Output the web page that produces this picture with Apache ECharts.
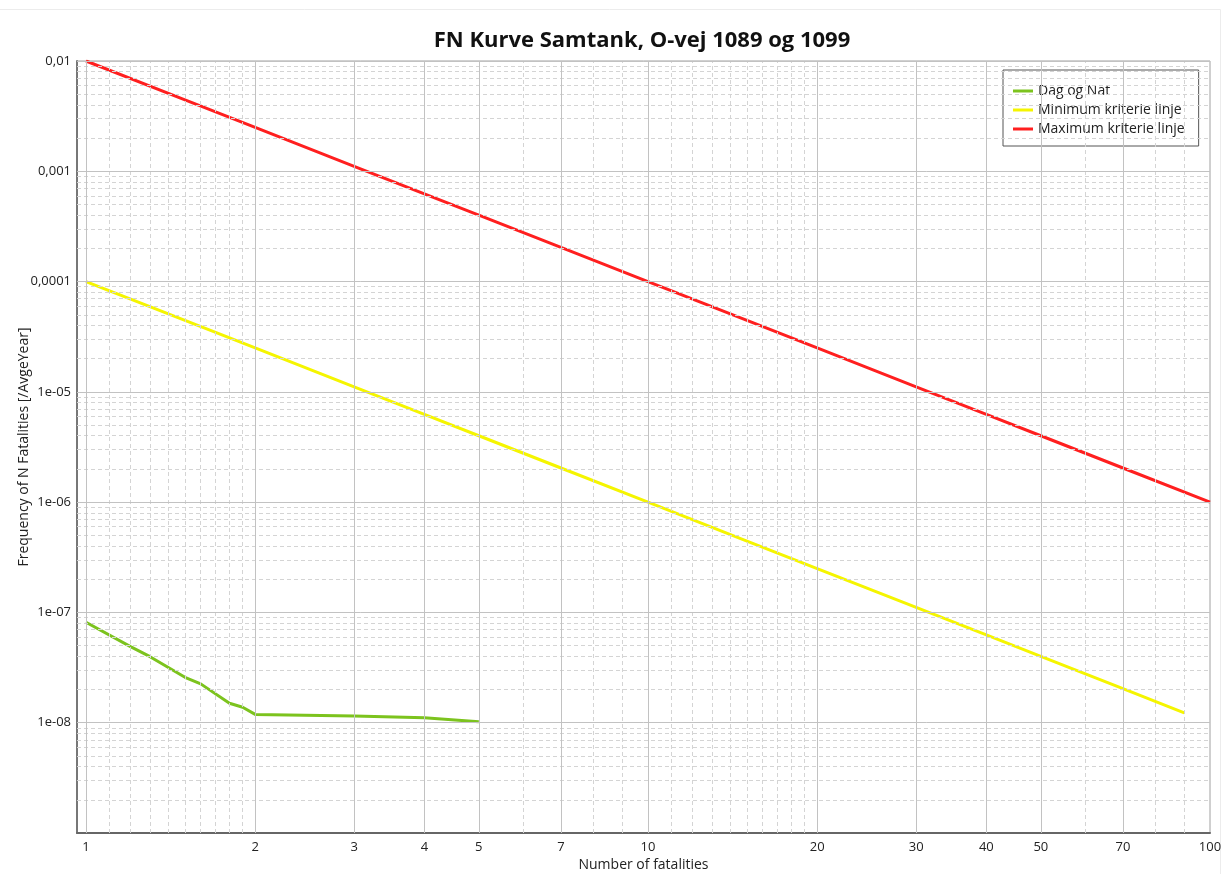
<!DOCTYPE html>
<html>
<head>
<meta charset="utf-8">
<script src="https://cdn.jsdelivr.net/npm/echarts@6/dist/echarts.min.js"></script>
<style>
html,body{margin:0;padding:0;background:#fff;}
#chart{width:1223px;height:874px;}
</style>
</head>
<body>
<div id="chart"></div>
<script>
// ---- data ----
const titleText = 'FN Kurve Samtank, O-vej 1089 og 1099';
const xName = 'Number of fatalities';
const yName = 'Frequency of N Fatalities [/AvgeYear]';
const seriesNames = ['Dag og Nat', 'Minimum kriterie linje', 'Maximum kriterie linje'];

const dagNatN = [1, 1.2, 1.3, 1.5, 1.6, 1.8, 1.9, 2, 3, 4, 5];
const dagNatF = [8.15e-8, 4.9e-8, 3.97e-8, 2.58e-8, 2.25e-8, 1.5e-8, 1.38e-8, 1.19e-8, 1.15e-8, 1.11e-8, 1.02e-8];

const minN = [1, 1.5, 2, 3, 4, 5, 7, 10, 15, 20, 30, 40, 50, 70, 90];
const minF = [1e-4, 4.44e-5, 2.5e-5, 1.11e-5, 6.25e-6, 4e-6, 2.04e-6, 1e-6, 4.44e-7, 2.5e-7, 1.11e-7, 6.25e-8, 4e-8, 2.04e-8, 1.23e-8];

const maxN = [1, 1.5, 2, 3, 4, 5, 7, 10, 15, 20, 30, 40, 50, 70, 100];
const maxF = [1e-2, 4.44e-3, 2.5e-3, 1.11e-3, 6.25e-4, 4e-4, 2.04e-4, 1e-4, 4.44e-5, 2.5e-5, 1.11e-5, 6.25e-6, 4e-6, 2.04e-6, 1e-6];

const xTickValues = [1, 2, 3, 4, 5, 7, 10, 20, 30, 40, 50, 70, 100];
const xTickLabels = ['1', '2', '3', '4', '5', '7', '10', '20', '30', '40', '50', '70', '100'];
const xMinorValues = [1.1, 1.2, 1.3, 1.4, 1.5, 1.6, 1.7, 1.8, 1.9, 6, 8, 9, 11, 12, 13, 14, 15, 16, 17, 18, 19, 60, 80, 90];
const yTickValues = [1e-8, 1e-7, 1e-6, 1e-5, 1e-4, 1e-3, 1e-2];
const yTickLabels = ['1e-08', '1e-07', '1e-06', '1e-05', '0,0001', '0,001', '0,01'];
const yMinorMultipliers = [2, 3, 4, 5, 6, 7, 8, 9];
const yMinorDecades = [1e-9, 1e-8, 1e-7, 1e-6, 1e-5, 1e-4, 1e-3];

// ---- build ----
const X_MIN = 0.9638, X_MAX = 100, Y_MIN = 1e-9, Y_MAX = 1e-2;
const zip = (a, b) => a.map((v, i) => [v, b[i]]);
const yMinorValues = [];
yMinorDecades.forEach(d => yMinorMultipliers.forEach(m => yMinorValues.push(m * d)));

const lookup = (vals, labels) => v => {
  for (let i = 0; i < vals.length; i++) {
    if (Math.abs(Math.log10(v) - Math.log10(vals[i])) < 1e-6) return labels[i];
  }
  return '';
};
const vLine = v => [{coord: [v, Y_MIN]}, {coord: [v, Y_MAX]}];
const hLine = v => [{coord: [X_MIN, v]}, {coord: [X_MAX, v]}];

const FONT = '"Open Sans", "Noto Sans", sans-serif';
const colors = ['#7cc31e', '#f5f500', '#ff1f1f'];

const chart = echarts.init(document.getElementById('chart'), null, {renderer: 'canvas'});
const option = {
  backgroundColor: '#ffffff',
  animation: false,
  textStyle: {fontFamily: FONT},
  grid: {left: 77, right: 13, top: 61, bottom: 41, containLabel: false, outerBoundsMode: 'none',
         show: true, borderColor: '#a0a0a0', borderWidth: 1, backgroundColor: 'transparent'},
  graphic: [
    {type: 'rect', shape: {x: -2, y: 9.5, width: 1222.5, height: 870}, style: {fill: 'none', stroke: '#ececec', lineWidth: 1}, silent: true, z: -1},
    {type: 'text', x: 642, y: 41, style: {text: titleText, font: 'bold 22px ' + FONT, fill: '#111', textAlign: 'center', textVerticalAlign: 'middle'}}
  ],
  legend: {
    orient: 'vertical',
    left: 1003, top: 70,
    padding: [14, 14, 10, 10],
    backgroundColor: '#ffffff',
    borderColor: '#555',
    borderWidth: 1,
    itemWidth: 20, itemHeight: 3, itemGap: 5,
    icon: 'rect',
    textStyle: {fontSize: 14, color: '#222', fontFamily: FONT},
    data: seriesNames
  },
  xAxis: {
    type: 'log', logBase: 10, min: X_MIN, max: X_MAX,
    name: xName, nameLocation: 'middle', nameGap: 25, nameMoveOverlap: false,
    nameTextStyle: {fontSize: 14, color: '#222', fontFamily: FONT},
    axisLine: {show: true, onZero: false, lineStyle: {color: '#666', width: 2}},
    axisTick: {show: false},
    splitLine: {show: false},
    minorSplitLine: {show: false},
    axisLabel: {customValues: xTickValues, formatter: lookup(xTickValues, xTickLabels), fontSize: 13, color: '#222', margin: 8, fontFamily: FONT}
  },
  yAxis: {
    type: 'log', logBase: 10, min: Y_MIN, max: Y_MAX,
    name: yName, nameLocation: 'middle', nameGap: 46, nameMoveOverlap: false,
    nameTextStyle: {fontSize: 14, color: '#222', fontFamily: FONT},
    axisLine: {show: true, onZero: false, lineStyle: {color: '#777', width: 2}},
    axisTick: {show: false},
    splitLine: {show: false},
    minorSplitLine: {show: false},
    axisLabel: {customValues: yTickValues, formatter: lookup(yTickValues, yTickLabels), fontSize: 13, color: '#222', margin: 6, fontFamily: FONT}
  },
  series: [
    {
      name: '_minorGrid', type: 'line', data: [[1, 1e-8]], showSymbol: false, silent: true, z: 1,
      lineStyle: {opacity: 0}, tooltip: {show: false},
      markLine: {
        silent: true, symbol: ['none', 'none'], label: {show: false},
        lineStyle: {color: '#d4d4d4', width: 1, type: [4, 3]},
        data: xMinorValues.map(vLine).concat(yMinorValues.map(hLine))
      }
    },
    {
      name: '_majorGrid', type: 'line', data: [[1, 1e-8]], showSymbol: false, silent: true, z: 1,
      lineStyle: {opacity: 0}, tooltip: {show: false},
      markLine: {
        silent: true, symbol: ['none', 'none'], label: {show: false},
        lineStyle: {color: '#c2c2c2', width: 1, type: 'solid'},
        data: xTickValues.filter(v => v < 100).map(vLine).concat(yTickValues.map(hLine))
      }
    },
    {name: seriesNames[0], type: 'line', data: zip(dagNatN, dagNatF), showSymbol: false, z: 3, color: colors[0], lineStyle: {width: 3, color: colors[0]}},
    {name: seriesNames[1], type: 'line', data: zip(minN, minF), showSymbol: false, z: 3, color: colors[1], lineStyle: {width: 3, color: colors[1]}},
    {name: seriesNames[2], type: 'line', data: zip(maxN, maxF), showSymbol: false, z: 3, color: colors[2], lineStyle: {width: 3, color: colors[2]}}
  ]
};
chart.setOption(option);
</script>
</body>
</html>
